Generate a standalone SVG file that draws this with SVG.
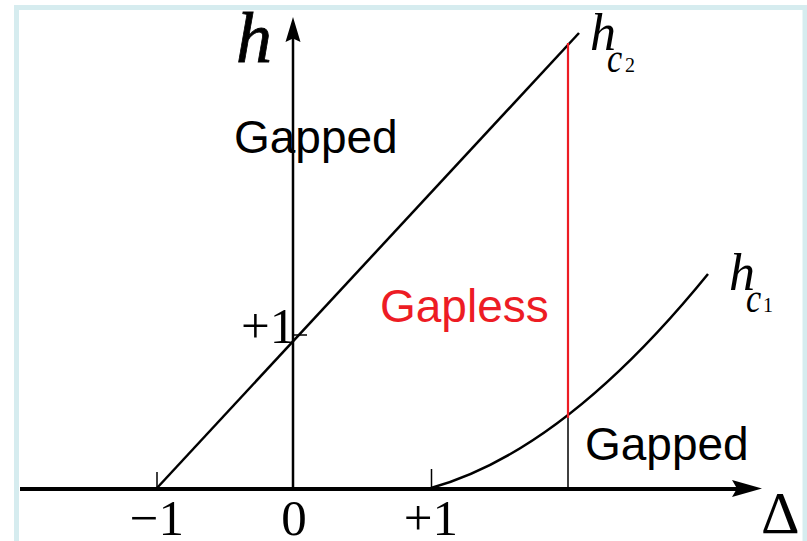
<svg xmlns="http://www.w3.org/2000/svg" width="807" height="541" viewBox="0 0 807 541">
<style>
.serif{font-family:"Liberation Serif","Times New Roman",serif;fill:#000}
.it{font-style:italic}
.sans{font-family:"Liberation Sans",Arial,sans-serif;font-size:46px}
.ln{fill:none;stroke:#000;stroke-width:2.5}
</style>
<rect x="16.5" y="7.5" width="788.5" height="600" fill="#fff" stroke="#d6ecef" stroke-width="5"/>
<g id="connectors">
  <line x1="20" y1="489" x2="740" y2="489" stroke="#000" stroke-width="4"/>
  <path d="M762,488.5 L732,480 L737,488.5 L732,497 Z" fill="#000"/>
  <line x1="293" y1="489" x2="293" y2="38" stroke="#000" stroke-width="2.5"/>
  <path d="M293,17 L285.5,42 L293,38.5 L300.5,42 Z" fill="#000"/>
  <line class="ln" x1="157" y1="488" x2="579" y2="33"/>
  <path class="ln" d="M431,488 Q564,451 708,274"/>
  <line x1="157" y1="472" x2="157" y2="488" stroke="#000" stroke-width="1.5"/>
  <line x1="431.5" y1="469" x2="431.5" y2="488" stroke="#000" stroke-width="1.5"/>
  <line x1="293" y1="335" x2="307" y2="335" stroke="#000" stroke-width="1.5"/>
  <line x1="568" y1="43" x2="568" y2="418" stroke="#ed1c24" stroke-width="2.2"/>
  <line x1="568" y1="418" x2="568" y2="488" stroke="#000" stroke-width="1.5"/>
</g>
<g id="axis-h"><text class="serif it" x="236" y="62" font-size="72" stroke="#000" stroke-width="0.8">h</text></g>
<g id="axis-delta"><text class="serif" x="761" y="533" font-size="60">Δ</text></g>
<g id="label-hc2">
  <text class="serif it" x="590" y="50" font-size="52">h</text>
  <text class="serif it" transform="translate(607,72) scale(0.95,1.2)" font-size="36">c</text>
  <text class="serif" x="625" y="72" font-size="20">2</text>
</g>
<g id="label-hc1">
  <text class="serif it" x="729" y="290" font-size="52">h</text>
  <text class="serif it" transform="translate(746,312) scale(0.95,1.2)" font-size="36">c</text>
  <text class="serif" x="763" y="312" font-size="20">1</text>
</g>
<g id="tick-labels">
  <text class="serif" x="241" y="343" font-size="51">+1</text>
  <text class="serif" x="157" y="535" font-size="51" text-anchor="middle">−1</text>
  <text class="serif" x="294" y="535" font-size="51" text-anchor="middle">0</text>
  <text class="serif" x="431" y="535" font-size="51" text-anchor="middle">+1</text>
</g>
<g id="region-gapped-top"><text class="sans" x="234" y="153" font-size="45">Gapped</text></g>
<g id="region-gapless"><text class="sans" x="380" y="322" fill="#ed1c24">Gapless</text></g>
<g id="region-gapped-bottom"><text class="sans" x="585" y="460">Gapped</text></g>
</svg>
